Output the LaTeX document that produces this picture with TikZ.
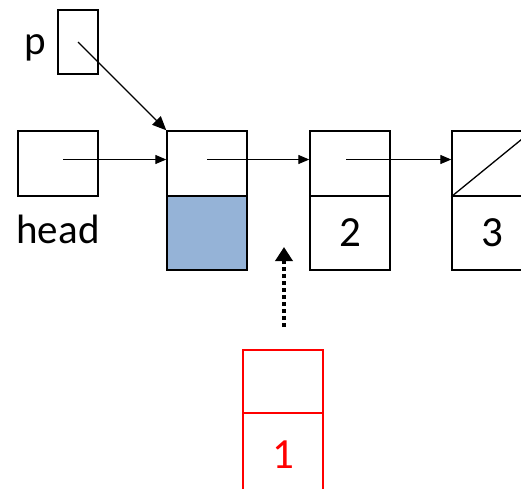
\documentclass[tikz,border=0pt]{standalone}
\usepackage{fontspec}
\setmainfont{Carlito}
\usetikzlibrary{arrows.meta}
\definecolor{cellblue}{RGB}{149,179,215}
\begin{document}
\begin{tikzpicture}[x=1pt,y=-1pt,
  cell/.style={draw=black,line width=1.4pt,rectangle,minimum width=80pt,inner sep=0pt,font=\fontsize{43}{45}\selectfont},
  redcell/.style={draw=red,line width=1.6pt,rectangle,minimum width=80pt,inner sep=0pt,text=red,font=\fontsize{43}{45}\selectfont},
  lbl/.style={inner sep=0pt,font=\fontsize{41}{43}\selectfont},
  link/.style={line width=1.3pt,-{Triangle[length=11pt,width=9pt]}},
  dotarrow/.style={line width=4pt,dash pattern=on 4pt off 3pt,-{Triangle[length=14pt,width=17pt]}}
]
\useasboundingbox (0,0) rectangle (521,488);
\begin{scope}
\clip (0,0) rectangle (521,488);
\node[cell,minimum width=40pt,minimum height=64pt] (p) at (78,42) {};
\node[lbl] (plbl) at (35,48) {p};
\node[cell,minimum height=65pt] (head) at (58,163.5) {};
\node[lbl] (headlbl) at (58,229) {head};
\node[cell,minimum height=65pt] (n1top) at (207,163.5) {};
\node[cell,minimum height=74pt,fill=cellblue] (n1bot) at (207,233) {};
\node[cell,minimum height=65pt] (n2top) at (350,163.5) {};
\node[cell,minimum height=74pt] (n2bot) at (350,233) {2};
\node[cell,minimum height=65pt] (n3top) at (492,163.5) {};
\node[cell,minimum height=74pt] (n3bot) at (492,233) {3};
\draw[line width=1.3pt] (n3top.south west) -- (n3top.north east);
\node[redcell,minimum height=63pt] (rtop) at (283,381.5) {};
\node[redcell,minimum height=84pt] (rbot) at (283,455) {1};
\draw[link] ([yshift=4pt,xshift=5pt]head.center) -- ([yshift=4pt]n1top.west);
\draw[link] ([yshift=4pt]n1top.center) -- ([yshift=4pt]n2top.west);
\draw[link] ([yshift=4pt,xshift=-4pt]n2top.center) -- ([yshift=4pt]n3top.west);
\draw[line width=1.4pt,-{Triangle[length=14pt,width=12pt]}] (p.center) -- (n1top.north west);
\coordinate (ds) at (284,327);
\coordinate (de) at (284,247);
\draw[dotarrow] (ds) -- (de);
\end{scope}
\end{tikzpicture}
\end{document}
